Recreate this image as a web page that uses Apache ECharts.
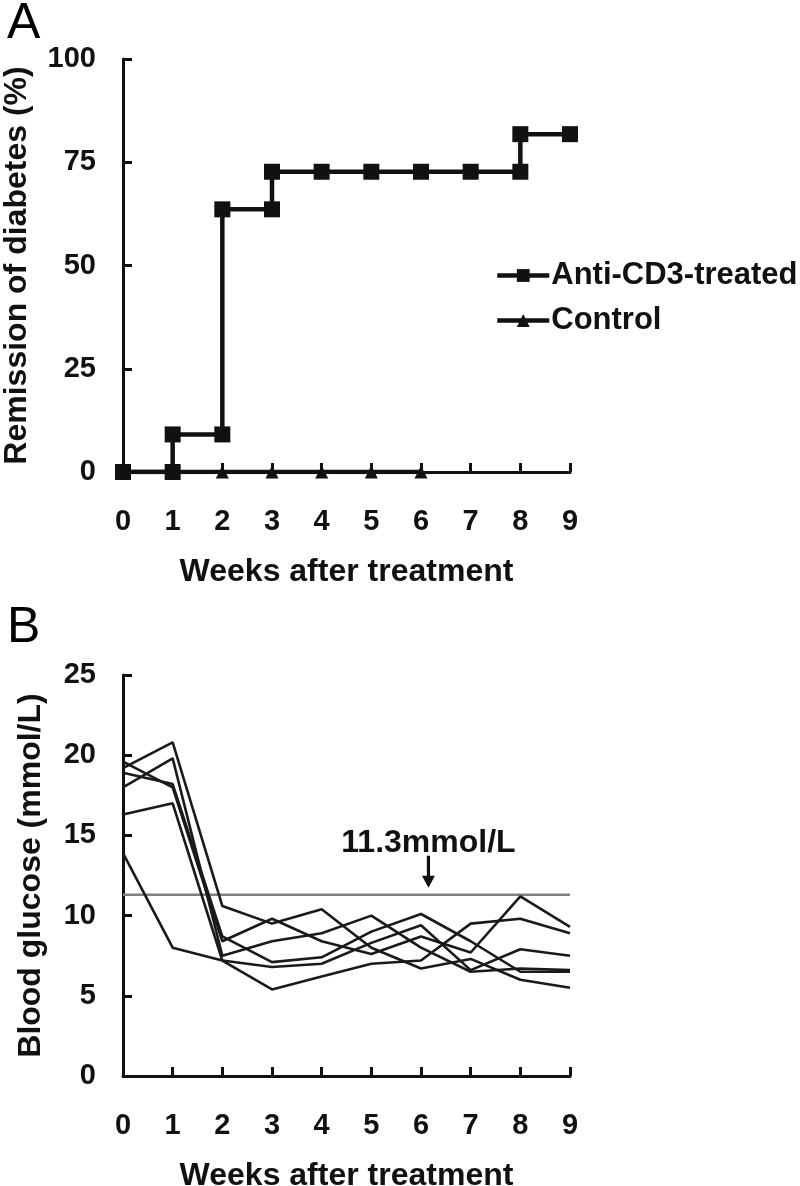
<!DOCTYPE html>
<html>
<head>
<meta charset="utf-8">
<script src="https://cdn.jsdelivr.net/npm/echarts@6/dist/echarts.min.js"></script>
<style>html,body{margin:0;padding:0;background:#fff;}#chart{width:800px;height:1186px;}</style>
</head>
<body>
<div id="chart"></div>
<script>
// ---------- Panel A data ----------
const weekTicks = [0,1,2,3,4,5,6,7,8,9];
const antiWeeks = [0,1,1,2,2,3,3,4,5,6,7,8,8,9];
const antiValues = [0,0,9.1,9.1,63.6,63.6,72.7,72.7,72.7,72.7,72.7,72.7,81.8,81.8];
const controlWeeks = [0,1,2,3,4,5,6];
const controlValues = [0,0,0,0,0,0,0];
const remissionTicks = [0,25,50,75,100];

// ---------- Panel B data ----------
const glucoseWeeks = [0,1,2,3,4,5,6,7,8,9];
const mouse1 = [19.6,18.0,8.4,9.8,8.4,7.6,8.7,7.7,11.2,9.3];
const mouse2 = [19.2,20.8,10.6,9.5,10.4,8.0,6.7,7.3,6.0,5.5];
const mouse3 = [18.0,19.8,7.5,8.4,8.9,10.0,8.0,6.5,6.7,6.6];
const mouse4 = [18.9,18.2,8.7,7.1,7.4,9.0,10.1,8.4,6.5,6.5];
const mouse5 = [16.3,17.0,7.2,6.8,7.0,8.3,9.4,6.6,7.9,7.5];
const mouse6 = [13.9,8.0,7.2,5.4,6.2,7.0,7.2,9.5,9.8,8.9];
const glucoseTicks = [0,5,10,15,20,25];
const threshold = 11.3;
const thresholdLabel = '11.3mmol/L';
const arrowWeek = 6.15;

const FONT = "'Liberation Sans', Arial, sans-serif";
const pair = (xs, ys) => xs.map((x, i) => [x, ys[i]]);

function xAxisCfg(gridIndex) {
  return {
    type: 'value', gridIndex, min: 0, max: 9, interval: 1,
    name: 'Weeks after treatment', nameLocation: 'middle', nameGap: 84,
    nameTextStyle: { fontFamily: FONT, fontWeight: 'bold', fontSize: 32, color: '#111' },
    axisLine: { show: true, onZero: false, lineStyle: { color: '#111', width: 3 } },
    axisTick: { show: true, inside: true, length: 9, lineStyle: { color: '#111', width: 3 } },
    axisLabel: { margin: 35, fontFamily: FONT, fontWeight: 'bold', fontSize: 29, color: '#111' },
    splitLine: { show: false }
  };
}
function yAxisCfg(gridIndex, max, interval, name, gap) {
  return {
    type: 'value', gridIndex, min: 0, max, interval,
    name, nameLocation: 'middle', nameGap: gap,
    nameTextStyle: { fontFamily: FONT, fontWeight: 'bold', fontSize: 32, color: '#111' },
    axisLine: { show: true, onZero: false, lineStyle: { color: '#111', width: 3 } },
    axisTick: { show: true, inside: true, length: 9, lineStyle: { color: '#111', width: 3 } },
    axisLabel: { margin: 27, fontFamily: FONT, fontWeight: 'bold', fontSize: 29, color: '#111' },
    splitLine: { show: false }
  };
}

const mice = [mouse1, mouse2, mouse3, mouse4, mouse5, mouse6];
const glucoseSeries = mice.map((m, i) => ({
  name: 'mouse' + (i + 1), type: 'line', xAxisIndex: 1, yAxisIndex: 1,
  data: pair(glucoseWeeks, m), symbol: 'none', silent: true,
  lineStyle: { color: '#1a1a1a', width: 2.6 }, z: 3
}));

const option = {
  animation: false,
  backgroundColor: '#fff',
  title: [
    { text: 'A', left: 2, top: -6, textStyle: { fontFamily: FONT, fontWeight: 'normal', fontSize: 50, color: '#000' } },
    { text: 'B', left: 2, top: 598, textStyle: { fontFamily: FONT, fontWeight: 'normal', fontSize: 50, color: '#000' } }
  ],
  legend: {
    data: ['Anti-CD3-treated', 'Control'],
    orient: 'vertical', left: 490, top: 255, itemWidth: 52, itemHeight: 16, itemGap: 14,
    lineStyle: { width: 4.5 },
    textStyle: { fontFamily: FONT, fontWeight: 'bold', fontSize: 31, color: '#111', padding: [0,0,0,-3] },
    inactiveColor: '#111'
  },
  grid: [
    { left: 123, top: 59, width: 447, height: 413, containLabel: false, outerBoundsMode: 'none' },
    { left: 123, top: 675, width: 447, height: 401, containLabel: false, outerBoundsMode: 'none' }
  ],
  xAxis: [xAxisCfg(0), xAxisCfg(1)],
  yAxis: [
    yAxisCfg(0, 100, 25, 'Remission of diabetes (%)', 90),
    yAxisCfg(1, 25, 5, 'Blood glucose (mmol/L)', 76)
  ],
  series: [
    {
      name: 'Control', type: 'line', xAxisIndex: 0, yAxisIndex: 0,
      data: pair(controlWeeks, controlValues),
      symbol: 'triangle', symbolSize: [13, 13], showAllSymbol: true,
      itemStyle: { color: '#111' }, lineStyle: { color: '#111', width: 4.5 }, z: 3
    },
    {
      name: 'Anti-CD3-treated', type: 'line', xAxisIndex: 0, yAxisIndex: 0,
      data: pair(antiWeeks, antiValues),
      symbol: 'rect', symbolSize: 16, showAllSymbol: true,
      itemStyle: { color: '#111' }, lineStyle: { color: '#111', width: 4.5 }, z: 4
    },
    ...glucoseSeries,
    {
      name: 'threshold', type: 'line', xAxisIndex: 1, yAxisIndex: 1,
      data: [[0, threshold], [9, threshold]], symbol: 'none', silent: true,
      lineStyle: { color: '#808080', width: 2.5 }, z: 2,
      markPoint: {
        silent: true,
        data: [{ coord: [arrowWeek, threshold] }],
        symbol: 'path://M3.5,0 L6.5,0 L6.5,20 L11,20 L5,32 L-1,20 L3.5,20 Z',
        symbolSize: [13, 32], symbolOffset: [0, -23],
        itemStyle: { color: '#111' },
        label: { show: true, position: 'top', distance: -3, formatter: thresholdLabel,
          fontFamily: FONT, fontWeight: 'bold', fontSize: 32, color: '#111' }
      }
    }
  ]
};

const chart = echarts.init(document.getElementById('chart'), null, { renderer: 'canvas' });
chart.setOption(option);
</script>
</body>
</html>
